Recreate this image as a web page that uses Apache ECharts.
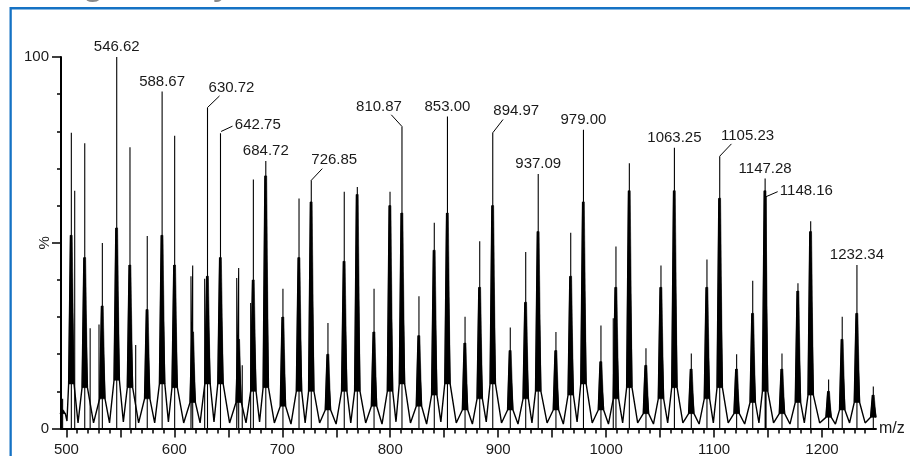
<!DOCTYPE html>
<html><head><meta charset="utf-8">
<script src="https://cdn.jsdelivr.net/npm/echarts@6/dist/echarts.min.js"></script>
<style>html,body{margin:0;padding:0;background:#fff;overflow:hidden}#c{width:910px;height:456px}</style>
</head><body><div id="c"></div>
<script>
// ---- data ----
const clusterMz = [496.5, 504.57, 517.0, 533.3, 546.62, 558.9, 574.9, 588.67, 600.3, 617.0, 630.72, 642.75, 659.6, 673.2, 684.72, 700.6, 715.5, 726.85, 742.3, 757.4, 769.5, 785.0, 799.8, 810.87, 826.6, 840.8, 853.00, 869.3, 882.9, 894.97, 911.2, 925.5, 937.09, 953.5, 967.2, 979.00, 995.2, 1009.1, 1021.5, 1036.9, 1050.8, 1063.25, 1078.9, 1093.4, 1105.23, 1120.9, 1135.8, 1147.28, 1162.9, 1177.7, 1189.5, 1206.1, 1218.7, 1232.34, 1247.5];
const clusterTop = [8, 79.6, 76.8, 49.9, 100, 75.7, 51.8, 90.7, 78.8, 43.9, 86.4, 79.5, 43.2, 67, 72, 37.6, 61.9, 66.8, 28.4, 63.7, 65, 37.6, 63.7, 81.3, 35.6, 55.4, 84, 30.1, 50.4, 79.6, 27.2, 47.5, 68.5, 26, 52.7, 80.4, 27.7, 49, 71.4, 21.6, 43.9, 75.6, 20.2, 45.5, 73.3, 20, 39.8, 67.3, 20.2, 39.1, 55.8, 13.2, 30.1, 44, 11.3];
const clusterBody = [5, 52, 46, 33, 54, 44, 32, 52, 44, 26, 41, 46, 24, 40, 68, 30, 46, 61, 20, 45, 63, 26, 60, 58, 25, 48, 58, 23, 38, 60, 21, 34, 53, 21, 41, 61, 18, 38, 64, 17, 38, 64, 16, 38, 62, 16, 31, 64, 16, 37, 53, 10, 24, 31, 9];
const clusterFoot = [4, 12, 11, 8, 13, 11, 8, 12, 11, 7, 12, 12, 7, 10, 11, 6, 10, 10, 5, 10, 10, 6, 10, 12, 6, 9, 12, 5, 8, 12, 5, 8, 10, 5, 9, 12, 5, 8, 11, 4, 8, 11, 4, 8, 11, 4, 7, 10, 4, 7, 9, 3, 5, 7, 3];
const valleys = [2, 1.5, 1.5, 1.5, 1.8, 1.5, 1.5, 1.8, 1.5,
                 1.5, 1.8, 1.5, 1.5, 1.8, 1.5, 1.2, 1.5, 1.5,
                 1.2, 1.5, 1.5, 1.2, 1.8, 1.5, 1.2, 1.8, 1.5,
                 1.2, 1.8, 1.5, 1.2, 1.5, 1.5, 1.2, 1.8, 1.5,
                 1.2, 1.5, 1.5, 1.2, 1.5, 1.5, 1.2, 1.5, 1.5,
                 1.2, 1.5, 1.5, 1.2, 1.5, 1.5, 1.2, 1.5, 1.5];
const sideMz  = [507.7, 522.0, 530.2, 564.2, 615.4, 628.1, 657.8, 662.9, 670.7, 1006.6, 1148.16];
const sideTop = [64, 27, 28, 22.5, 41, 40.3, 40.5, 17, 33.8, 29.7, 62.4];

const labelMz  = [546.62, 588.67, 630.72, 642.75, 684.72, 726.85, 810.87, 853.00, 894.97, 937.09, 979.00, 1063.25, 1105.23, 1147.28, 1148.16, 1232.34];
const labelVal = [100, 90.7, 86.4, 79.5, 72, 66.8, 81.3, 84, 79.6, 68.5, 80.4, 75.6, 73.3, 67.3, 62.4, 44];

const xTickMajor = [500,550,600,650,700,750,800,850,900,950,1000,1050,1100,1150,1200];
const xTickMinor = [];
for (let v = 500; v <= 1240; v += 10) xTickMinor.push(v);
const xTickLabels = [500,600,700,800,900,1000,1100,1200];
const yTickValues = [0, 100];
const yTickText = ['0', '100'];

// ---- style (pixel offsets of labels and leader lines, peak shape half-widths) ----
const FONT = "'Liberation Sans', Arial, sans-serif";
const FOOT_W = 2.5, BODY_W = 0.8;
const labelOffsets = {
  '630.72': {tx: 24, ty: -20, l: [0, 0, 12, -11.6]},
  '642.75': {tx: 37.3, ty: -8, l: [0.6, -1.7, 12, -7]},
  '726.85': {tx: 23, ty: -20.7, l: [0, 0, 11, -11.7]},
  '810.87': {tx: -23, ty: -20, l: [0, 0, -10.7, -11.7]},
  '894.97': {tx: 23.5, ty: -21.6, l: [0, 0, 10.3, -13.3]},
  '1105.23': {tx: 27.8, ty: -20.6, l: [0, 0, 11.7, -12.3]},
  '1148.16': {tx: 40.3, ty: -5.6, l: [0, 0, 11.6, -5]}
};

// ---- build series data ----
const profile = [];
for (let i = 0; i < clusterMz.length; i++) {
  const m = clusterMz[i];
  profile.push([m - FOOT_W, clusterFoot[i]], [m - BODY_W, clusterBody[i]], [m + BODY_W, clusterBody[i]], [m + FOOT_W, clusterFoot[i]]);
  if (i < clusterMz.length - 1) profile.push([(m + clusterMz[i + 1]) / 2, valleys[i]]);
}
const bodyData = clusterMz.map((m, i) => [m, clusterFoot[i], clusterBody[i]]);
const peaks = clusterMz.map((m, i) => [m, clusterTop[i]])
  .concat(sideMz.map((m, i) => [m, sideTop[i]]))
  .sort((a, b) => a[0] - b[0]);
const sticks = [];
peaks.forEach(p => { sticks.push([p[0], 0], [p[0], p[1]], [p[0], 0]); });
const labelData = labelMz.map((m, i) => [m, labelVal[i]]);

const chart = echarts.init(document.getElementById('c'), null, {renderer: 'canvas'});
chart.setOption({
  animation: false,
  backgroundColor: '#fff',
  grid: {left: 61, right: 34, top: 57, bottom: 27.5, containLabel: false, outerBoundsMode: 'none'},
  xAxis: [{
    type: 'value', min: 495, max: 1250, position: 'bottom',
    axisLine: {show: true, onZero: false, lineStyle: {color: '#000', width: 2}},
    axisTick: {show: true, customValues: xTickMajor, length: 9, lineStyle: {color: '#000', width: 1.5}},
    axisLabel: {show: true, customValues: xTickLabels, margin: 14, color: '#1a1a1a', fontSize: 15, fontFamily: FONT,
      formatter: v => String(v)},
    splitLine: {show: false},
    name: 'm/z', nameLocation: 'end', nameGap: 3, nameMoveOverlap: false,
    nameTextStyle: {color: '#1a1a1a', fontSize: 16, fontFamily: FONT, verticalAlign: 'middle', padding: [8, 0, 0, 0]}
  }, {
    type: 'value', min: 495, max: 1250, position: 'bottom', gridIndex: 0,
    axisLine: {show: false},
    axisTick: {show: true, customValues: xTickMinor, length: 5, lineStyle: {color: '#000', width: 1.5}},
    axisLabel: {show: false},
    splitLine: {show: false}
  }],
  yAxis: {
    type: 'value', min: 0, max: 100, interval: 50,
    axisLine: {show: true, lineStyle: {color: '#000', width: 2}},
    axisTick: {show: true, length: 9, lineStyle: {color: '#000', width: 1.5}},
    minorTick: {show: true, splitNumber: 5, length: 4, lineStyle: {color: '#000', width: 1.5}},
    minorSplitLine: {show: false},
    axisLabel: {margin: 12, color: '#1a1a1a', fontSize: 15, fontFamily: FONT,
      formatter: v => { const k = yTickValues.indexOf(v); return k >= 0 ? yTickText[k] : ''; }},
    splitLine: {show: false},
    name: '%', nameLocation: 'middle', nameGap: 9, nameRotate: 90, nameMoveOverlap: false,
    nameTextStyle: {color: '#1a1a1a', fontSize: 15, fontFamily: FONT}
  },
  series: [{
    type: 'line', data: profile, symbol: 'none', showSymbol: false, silent: true, z: 2,
    lineStyle: {color: '#000', width: 1.4}
  }, {
    type: 'custom', data: bodyData, silent: true, z: 2,
    encode: {x: 0, y: [1, 2]},
    renderItem: (params, api) => {
      const m = api.value(0), f = api.value(1), b = api.value(2);
      const pts = [api.coord([m - FOOT_W, f]), api.coord([m - BODY_W, b]), api.coord([m + BODY_W, b]), api.coord([m + FOOT_W, f])];
      return {type: 'polygon', shape: {points: pts}, style: {fill: '#000', stroke: '#000', lineWidth: 0.6}};
    }
  }, {
    type: 'line', data: sticks, symbol: 'none', showSymbol: false, silent: true, z: 3,
    lineStyle: {color: '#000', width: 1.1}
  }, {
    type: 'custom', data: labelData, clip: false, silent: true, z: 5,
    renderItem: (params, api) => {
      const p = api.coord([api.value(0), api.value(1)]);
      const txt = labelMz[params.dataIndex].toFixed(2);
      const o = labelOffsets[txt] || {tx: 0, ty: -10};
      const children = [{
        type: 'text', x: p[0] + o.tx, y: p[1] + o.ty,
        style: {text: txt, align: 'center', verticalAlign: 'middle', fill: '#1a1a1a', font: '15px ' + FONT}
      }];
      if (o.l) children.push({
        type: 'line', shape: {x1: p[0] + o.l[0], y1: p[1] + o.l[1], x2: p[0] + o.l[2], y2: p[1] + o.l[3]},
        style: {stroke: '#000', lineWidth: 1}
      });
      return {type: 'group', children};
    }
  }],
  graphic: [
    {type: 'rect', shape: {x: 10, y: 7, width: 900, height: 2.5}, style: {fill: '#1572c4'}, z: 10},
    {type: 'rect', shape: {x: 9.5, y: 7, width: 2.3, height: 449}, style: {fill: '#1572c4'}, z: 10},
    {type: 'text', x: 82, y: -37, style: {text: 'g', font: '40px ' + FONT, fill: '#8a8a8a', verticalAlign: 'top'}},
    {type: 'text', x: 213, y: -37, style: {text: 'y', font: '40px ' + FONT, fill: '#8a8a8a', verticalAlign: 'top'}}
  ]
});
</script></body></html>
